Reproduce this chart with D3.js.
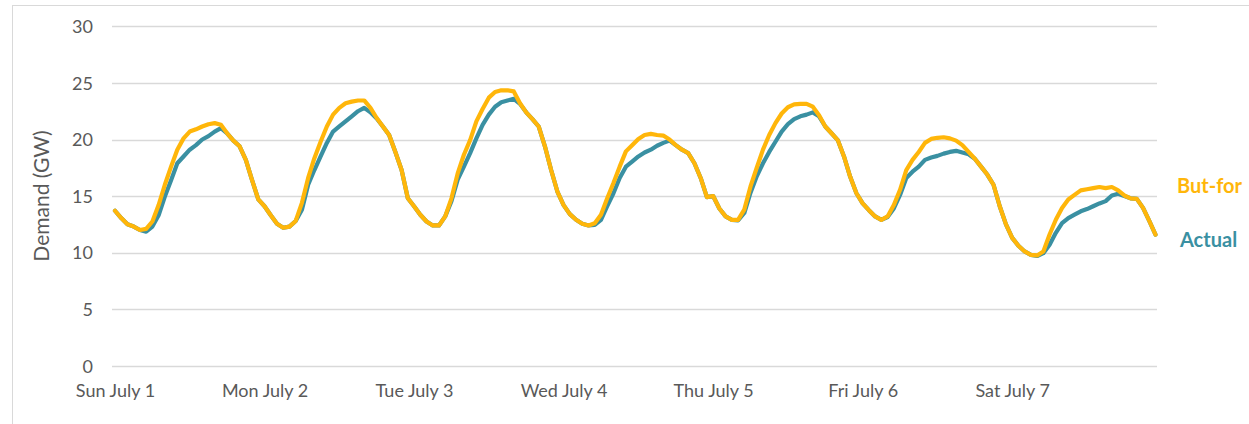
<!DOCTYPE html>
<html>
<head>
<meta charset="utf-8">
<script src="https://cdn.jsdelivr.net/npm/d3@7"></script>
<style>
  html, body { margin: 0; padding: 0; background: #ffffff; }
  svg { display: block; }
</style>
</head>
<body>
<svg id="chart" width="1249" height="424"></svg>
<script>
// ---- data (hourly demand, GW) ----
const dayLabels = ["Sun July 1", "Mon July 2", "Tue July 3", "Wed July 4", "Thu July 5", "Fri July 6", "Sat July 7"];
const yTicks = [0, 5, 10, 15, 20, 25, 30];
const seriesNames = ["But-for", "Actual"];

const butFor = [
  13.7, 13.05, 12.5, 12.3, 12.0, 12.1, 12.75, 14.2, 16.0, 17.6, 19.1, 20.1, 20.7, 20.9, 21.15, 21.35, 21.45, 21.3, 20.55, 19.9, 19.4, 18.2, 16.4, 14.7,
  14.1, 13.3, 12.55, 12.2, 12.3, 12.8, 14.4, 16.6, 18.35, 19.8, 21.15, 22.2, 22.8, 23.2, 23.35, 23.45, 23.45, 22.8, 21.9, 21.15, 20.4, 18.9, 17.3, 14.8,
  14.1, 13.35, 12.75, 12.4, 12.4, 13.2, 14.8, 17.0, 18.65, 19.95, 21.6, 22.7, 23.7, 24.2, 24.35, 24.35, 24.25, 23.2, 22.4, 21.8, 21.15, 19.4, 17.3, 15.4,
  14.2, 13.4, 12.9, 12.55, 12.4, 12.6, 13.35, 14.8, 16.15, 17.6, 18.95, 19.5, 20.05, 20.4, 20.5, 20.4, 20.35, 20.0, 19.5, 19.1, 18.8, 17.9, 16.6, 14.9,
  15.0, 13.9, 13.2, 12.9, 12.9, 13.8, 15.85, 17.5, 19.1, 20.4, 21.45, 22.3, 22.85, 23.1, 23.15, 23.15, 22.9, 22.15, 21.15, 20.55, 19.95, 18.5, 16.7, 15.25,
  14.35, 13.75, 13.2, 12.9, 13.2, 14.2, 15.55, 17.3, 18.2, 18.9, 19.7, 20.05, 20.15, 20.2, 20.1, 19.9, 19.5, 18.9, 18.3, 17.6, 16.9, 16.0, 14.1, 12.5,
  11.3, 10.6, 10.1, 9.8, 9.75, 10.1, 11.6, 12.9, 13.95, 14.7, 15.1, 15.5, 15.6, 15.7, 15.8, 15.7, 15.8, 15.5, 15.05, 14.8, 14.75, 13.95, 12.8, 11.6
];

const actual = [
  13.7, 13.05, 12.5, 12.3, 12.0, 11.85, 12.3, 13.3, 14.95, 16.4, 17.9, 18.5, 19.1, 19.5, 20.0, 20.3, 20.7, 21.0, 20.55, 19.9, 19.4, 18.2, 16.4, 14.7,
  14.1, 13.3, 12.55, 12.2, 12.3, 12.8, 13.8, 16.0, 17.3, 18.5, 19.7, 20.7, 21.15, 21.6, 22.05, 22.5, 22.8, 22.4, 21.85, 21.15, 20.4, 18.9, 17.3, 14.8,
  14.1, 13.35, 12.75, 12.4, 12.4, 13.2, 14.55, 16.45, 17.6, 18.8, 20.1, 21.3, 22.2, 22.9, 23.3, 23.45, 23.6, 23.15, 22.4, 21.8, 21.15, 19.4, 17.3, 15.4,
  14.2, 13.4, 12.9, 12.55, 12.4, 12.45, 12.9, 14.1, 15.25, 16.6, 17.6, 18.05, 18.5, 18.85, 19.1, 19.45, 19.7, 19.9, 19.5, 19.1, 18.8, 17.9, 16.6, 14.9,
  15.0, 13.9, 13.2, 12.9, 12.85, 13.5, 15.3, 16.75, 17.9, 18.9, 19.8, 20.7, 21.35, 21.8, 22.05, 22.2, 22.4, 22.05, 21.15, 20.55, 19.95, 18.5, 16.7, 15.25,
  14.35, 13.75, 13.2, 12.9, 13.15, 13.9, 15.1, 16.6, 17.15, 17.6, 18.2, 18.4, 18.55, 18.75, 18.9, 19.0, 18.85, 18.7, 18.3, 17.6, 16.9, 16.0, 14.1, 12.5,
  11.3, 10.6, 10.1, 9.8, 9.7, 9.95, 10.7, 11.75, 12.6, 13.05, 13.35, 13.65, 13.85, 14.1, 14.35, 14.55, 15.05, 15.2, 15.0, 14.8, 14.75, 13.95, 12.8, 11.6
];

// ---- layout ----
const svg = d3.select("#chart");
const textColor = "#595959";
const fontFamily = "Lato, 'Open Sans', sans-serif";
const colors = { "But-for": "#FFB60A", "Actual": "#3A90A2" };

// outer chart border
svg.append("rect")
  .attr("x", 12.5).attr("y", 5.5)
  .attr("width", 1300).attr("height", 500)
  .attr("fill", "none").attr("stroke", "#d9d9d9").attr("stroke-width", 1);

const x = d3.scaleLinear().domain([0, butFor.length - 1]).range([115, 1155.5]);
const y = d3.scaleLinear().domain([0, 30]).range([365.7, 26.4]);

// gridlines
svg.append("g")
  .selectAll("line")
  .data(yTicks)
  .join("line")
  .attr("x1", 112).attr("x2", 1157)
  .attr("y1", d => Math.round(y(d)) + 0.5)
  .attr("y2", d => Math.round(y(d)) + 0.5)
  .attr("stroke", "#d9d9d9").attr("stroke-width", 1.3);

// y axis labels
const yAxis = d3.axisLeft(y).tickValues(yTicks).tickSize(0).tickPadding(0);
const gy = svg.append("g").attr("transform", "translate(93,0)").call(yAxis);
gy.select(".domain").remove();
gy.selectAll("text")
  .attr("fill", textColor)
  .style("font-family", fontFamily)
  .style("font-size", "18px")
  .attr("dy", "0.35em");

// x axis labels
const xAxis = d3.axisBottom(x)
  .tickValues(dayLabels.map((d, i) => i * 24))
  .tickFormat((d, i) => dayLabels[i])
  .tickSize(0).tickPadding(0);
const gx = svg.append("g").attr("transform", "translate(0,384)").call(xAxis);
gx.select(".domain").remove();
gx.selectAll("text")
  .attr("fill", textColor)
  .style("font-family", fontFamily)
  .style("font-size", "18px");

// y axis title
svg.append("text")
  .attr("transform", "translate(49,196) rotate(-90)")
  .attr("text-anchor", "middle")
  .attr("fill", textColor)
  .style("font-family", fontFamily)
  .style("font-size", "21px")
  .text("Demand (GW)");

// lines
const line = d3.line()
  .x((d, i) => x(i))
  .y(d => y(d))
  .curve(d3.curveLinear);

const seriesData = { "But-for": butFor, "Actual": actual };
["Actual", "But-for"].forEach(name => {
  svg.append("path")
    .datum(seriesData[name])
    .attr("d", line)
    .attr("fill", "none")
    .attr("stroke", colors[name])
    .attr("stroke-width", 4.2)
    .attr("stroke-linejoin", "round")
    .attr("stroke-linecap", "round");
});

// legend labels
const legendY = { "But-for": 186, "Actual": 240 };
const legendX = { "But-for": 1177, "Actual": 1180 };
seriesNames.forEach(name => {
  svg.append("text")
    .attr("x", legendX[name]).attr("y", legendY[name])
    .attr("dy", "0.35em")
    .attr("fill", colors[name])
    .style("font-family", fontFamily)
    .style("font-weight", "bold")
    .style("font-size", "20px")
    .text(name);
});
</script>
</body>
</html>
